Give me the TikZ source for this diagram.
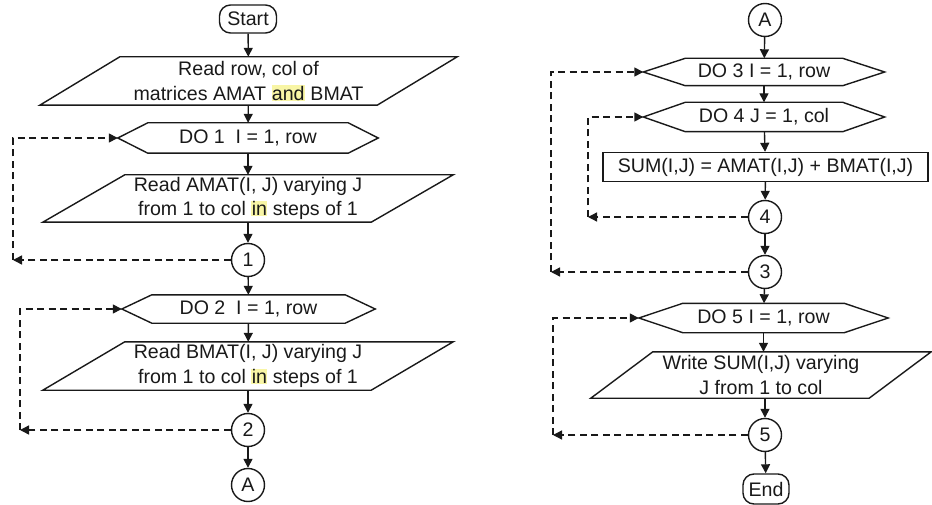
\documentclass[tikz,border=0pt]{standalone}
\usepackage{fontspec}
\setmainfont{Liberation Sans}
\usetikzlibrary{arrows.meta,calc}
\definecolor{ink}{RGB}{25,25,25}
\definecolor{hly}{RGB}{248,245,165}
\newcommand\hlt[1]{{\setlength{\fboxsep}{0.4pt}\colorbox{hly}{#1}}}
\tikzset{
  txt/.style={inner sep=0pt, align=center, text=ink, font=\fontsize{19.6}{24.5}\selectfont},
  shp/.style={txt, minimum width=#1},
  circ/.style={txt, circle, draw=ink, line width=1.4pt, minimum size=33pt},
  term/.style={txt, draw=ink, line width=1.4pt, rounded corners=11pt},
  proc/.style={txt, draw=ink, line width=1.4pt},
  edge/.style={draw=ink, line width=1.4pt, line join=miter},
  arr/.style={draw=ink, line width=1.4pt, -{Triangle[length=9pt,width=9pt]}},
  loopline/.style={draw=ink, line width=1.4pt, dash pattern=on 7pt off 4.5pt},
  looparr/.style={loopline, -{Triangle[length=9pt,width=9pt]}}
}
\newcommand\paraout[2]{\draw[edge] ($(#1.north west)+(#2,0)$) -- (#1.north east) -- ($(#1.south east)-(#2,0)$) -- (#1.south west) -- cycle;}
\newcommand\hexout[2]{\draw[edge] (#1.west) -- ($(#1.north west)+(#2,0)$) -- ($(#1.north east)-(#2,0)$) -- (#1.east) -- ($(#1.south east)-(#2,0)$) -- ($(#1.south west)+(#2,0)$) -- cycle;}
\begin{document}
\begin{tikzpicture}[x=1pt,y=-1pt]
\useasboundingbox (0,0) rectangle (932,505);
% ---------- left column ----------
\node[term, minimum width=57pt, minimum height=28pt] (start) at (248,19) {Start};
\node[shp=417pt, minimum height=48pt] (p1) at (248.5,81) {Read row, col of\\matrices AMAT \hlt{and} BMAT};
\paraout{p1}{80}
\node[shp=260pt, minimum height=30pt] (h1) at (248,138) {DO 1\ \ I = 1, row};
\hexout{h1}{30}
\node[shp=410pt, minimum height=47pt] (p2) at (248,198.5) {Read AMAT(I, J) varying J\\from 1 to col \hlt{in} steps of 1};
\paraout{p2}{82}
\node[circ] (c1) at (248,260) {1};
\node[shp=253pt, minimum height=28pt] (h2) at (248.5,309) {DO 2\ \ I = 1, row};
\hexout{h2}{30}
\node[shp=410pt, minimum height=48pt] (p3) at (248,366) {Read BMAT(I, J) varying J\\from 1 to col \hlt{in} steps of 1};
\paraout{p3}{82}
\node[circ] (c2) at (248,430) {2};
\node[circ] (a1) at (248,485) {A};
\draw[arr] (start) -- (p1);
\draw[arr] (p1) -- (h1);
\draw[arr] (h1) -- (p2);
\draw[arr] (p2) -- (c1);
\draw[arr] (c1) -- (h2);
\draw[arr] (h2) -- (p3);
\draw[arr] (p3) -- (c2);
\draw[arr] (c2) -- (a1);
\coordinate (k1) at (13,260);
\coordinate (k2) at (20,430);
\draw[looparr] (c1.west) -- (k1);
\draw[looparr] (k1) |- (h1.west);
\draw[looparr] (c2.west) -- (k2);
\draw[looparr] (k2) |- (h2.west);
% ---------- right column ----------
\node[circ] (a2) at (765,20) {A};
\node[shp=241pt, minimum height=27pt] (h3) at (764,72) {DO 3 I = 1, row};
\hexout{h3}{42}
\node[shp=241pt, minimum height=29pt] (h4) at (764,117) {DO 4 J = 1, col};
\hexout{h4}{42}
\node[proc, minimum width=325pt, minimum height=29pt] (sum) at (765.5,167) {SUM(I,J) = AMAT(I,J) + BMAT(I,J)};
\node[circ] (c4) at (765,217) {4};
\node[circ] (c3) at (765,272) {3};
\node[shp=249pt, minimum height=29pt] (h5) at (763.5,318) {DO 5 I = 1, row};
\hexout{h5}{44}
\node[shp=340pt, minimum height=46pt] (w) at (761,375) {Write SUM(I,J) varying\\J from 1 to col};
\paraout{w}{62}
\node[circ] (c5) at (765,435) {5};
\node[term, minimum width=46pt, minimum height=30pt] (end) at (766,489) {End};
\draw[arr] (a2) -- (h3);
\draw[arr] (h3) -- (h4);
\draw[arr] (h4) -- (sum);
\draw[arr] (sum) -- (c4);
\draw[arr] (c4) -- (c3);
\draw[arr] (c3) -- (h5);
\draw[arr] (h5.south) -- (w.north -| h5.south);
\draw[arr] (w.south -| c5.north) -- (c5);
\draw[arr] (c5) -- (end);
\coordinate (k3) at (551,272);
\coordinate (k4) at (588,217);
\coordinate (k5) at (553,435);
\draw[looparr] (c3.west) -- (k3);
\draw[looparr] (k3) |- (h3.west);
\draw[looparr] (c4.west) -- (k4);
\draw[looparr] (k4) |- (h4.west);
\draw[looparr] (c5.west) -- (k5);
\draw[looparr] (k5) |- (h5.west);
\end{tikzpicture}
\end{document}
